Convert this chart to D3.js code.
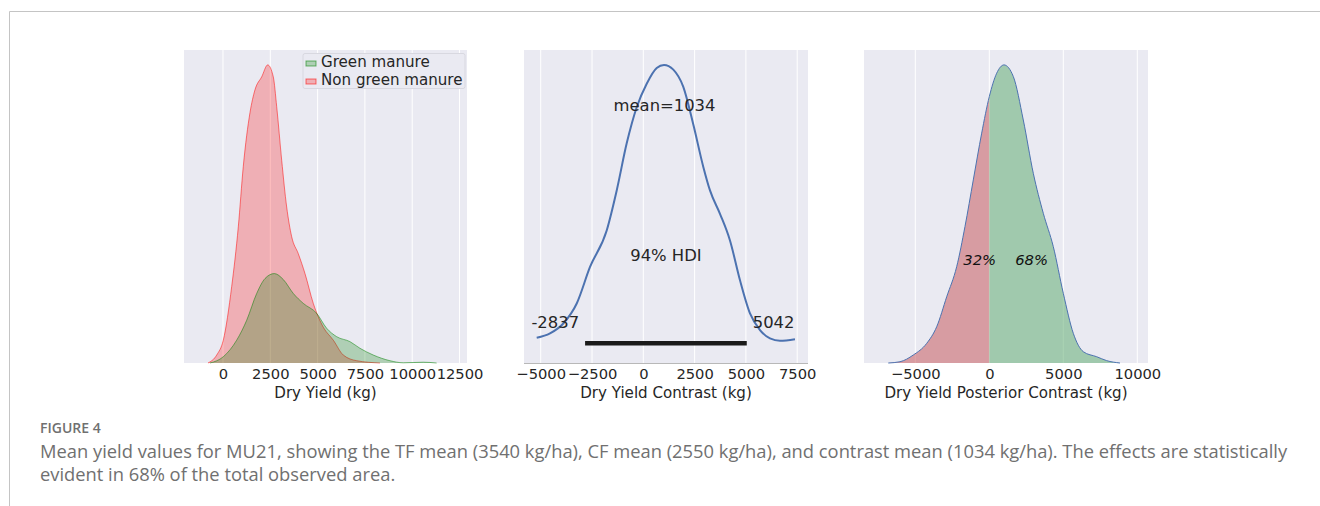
<!DOCTYPE html>
<html><head><meta charset="utf-8">
<script src="https://cdn.jsdelivr.net/npm/d3@7"></script>
<style>body{margin:0;background:#fff;} svg{display:block}</style>
</head><body><svg id="c" width="1320" height="506"></svg>
<script>
// ---------- data (densities in 1e-4 per kg) ----------
const yieldTicks = [0, 2500, 5000, 7500, 10000, 12500];
const contrastTicks = [-5000, -2500, 0, 2500, 5000, 7500];
const posteriorTicks = [-5000, 0, 5000, 10000];
const groupNames = ["Green manure", "Non green manure"];

const nonGreenYield   = [-793,-333,16,460,809,1073,1427,1691,2045,2362,2658,2838,3102,3366,3631,3980,4334,4772,5301,5829,6358,7066,8297];
const nonGreenDensity = [0,0.08,0.23,0.77,1.37,1.98,2.52,2.75,2.88,3.0,2.88,2.58,2.04,1.57,1.27,1.10,0.90,0.60,0.36,0.23,0.08,0.023,0];

const greenYield   = [-687,16,724,1252,1781,2220,2713,3187,3715,4244,4949,5477,6006,6711,7240,7944,8825,9530,10586,11290];
const greenDensity = [0,0.063,0.23,0.43,0.70,0.85,0.90,0.84,0.70,0.60,0.50,0.35,0.265,0.215,0.148,0.08,0.023,0.002,0.008,0];

const contrastValue   = [-5195,-4547,-3898,-3245,-2597,-1784,-1296,-809,-322,166,653,1009,1462,1949,2437,2924,3250,3737,4224,4712,5199,5686,6173,6660,7391];
const contrastDensity = [0.161,0.189,0.252,0.379,0.612,0.845,1.10,1.40,1.63,1.78,1.88,1.90,1.87,1.76,1.52,1.25,1.10,0.951,0.781,0.527,0.316,0.210,0.157,0.142,0.152];
const contrastMean = 1034;
const hdiLow = -2837, hdiHigh = 5042;
const hdiLabel = "94% HDI";

const posteriorValue   = [-6825,-6034,-5135,-4230,-3554,-2878,-2203,-1642,-1081,-514,0,500,993,1622,2297,2973,3649,4324,5000,5676,6352,7257,7933,8831];
const posteriorDensity = [0,0.008,0.051,0.125,0.231,0.422,0.614,0.870,1.167,1.465,1.698,1.847,1.900,1.826,1.549,1.209,0.954,0.742,0.444,0.189,0.072,0.040,0.015,0];
const shareBelow = "32%", shareAbove = "68%";

const xLabels = ["Dry Yield (kg)", "Dry Yield Contrast (kg)", "Dry Yield Posterior Contrast (kg)"];
const figureLabel = "FIGURE 4";
const captionLines = [
  "Mean yield values for MU21, showing the TF mean (3540 kg/ha), CF mean (2550 kg/ha), and contrast mean (1034 kg/ha). The effects are statistically",
  "evident in 68% of the total observed area."
];

// ---------- layout ----------
const svg = d3.select("#c");
const FONT = "DejaVu Sans, sans-serif";
const BG = "#eaeaf2";
const yTop = 50, yBottom = 363;
const panels = [
  {x0:184, x1:467, dom:[-2061, 12896], ticks:yieldTicks},
  {x0:524, x1:808, dom:[-5814, 8026], ticks:contrastTicks},
  {x0:864, x1:1148, dom:[-8466, 10723], ticks:posteriorTicks}
];

// frame lines
svg.append("rect").attr("width",1320).attr("height",506).attr("fill","#fff");
svg.append("line").attr("x1",9.5).attr("x2",1320).attr("y1",11.5).attr("y2",11.5).attr("stroke","#c4c4c4");
svg.append("line").attr("x1",9.5).attr("x2",9.5).attr("y1",11.5).attr("y2",506).attr("stroke","#c4c4c4");

function makePanel(p, i){
  const g = svg.append("g");
  const x = d3.scaleLinear().domain(p.dom).range([p.x0, p.x1]);
  g.append("rect").attr("x",p.x0).attr("y",yTop).attr("width",p.x1-p.x0).attr("height",yBottom-yTop).attr("fill",BG);
  g.selectAll("line.grid").data(p.ticks).join("line")
    .attr("x1",d=>x(d)).attr("x2",d=>x(d)).attr("y1",yTop).attr("y2",yBottom)
    .attr("stroke","#fff").attr("stroke-width",1);
  const ax = g.append("g").attr("transform",`translate(0,${yBottom})`)
    .call(d3.axisBottom(x).tickValues(p.ticks).tickSize(0).tickPadding(6).tickFormat(d3.format("d")));
  ax.select(".domain").remove();
  ax.selectAll("text").attr("font-family",FONT).attr("font-size",14.7).attr("fill","#262626");
  g.append("text").attr("x",(p.x0+p.x1)/2).attr("y",397.5).attr("text-anchor","middle")
    .attr("font-family",FONT).attr("font-size",15.1).attr("fill","#262626").text(xLabels[i]);
  return {g, x};
}

// ---- panel 1 ----
{
  const {g, x} = makePanel(panels[0], 0);
  const ymax = d3.max(nonGreenDensity.concat(greenDensity))*1.05;
  const y = d3.scaleLinear().domain([0, ymax]).range([yBottom, yTop]);
  const series = [
    {xs:nonGreenYield, ys:nonGreenDensity, c:"red"},
    {xs:greenYield, ys:greenDensity, c:"green"}
  ];
  series.forEach(s=>{
    const pts = s.xs.map((v,k)=>[v, s.ys[k]]);
    g.append("path").datum(pts)
      .attr("d", d3.area().x(d=>x(d[0])).y0(y(0)).y1(d=>y(d[1])).curve(d3.curveMonotoneX))
      .attr("fill", s.c).attr("fill-opacity",0.25);
    g.append("path").datum(pts)
      .attr("d", d3.line().x(d=>x(d[0])).y(d=>y(d[1])).curve(d3.curveMonotoneX))
      .attr("fill","none").attr("stroke", s.c).attr("stroke-opacity",0.5).attr("stroke-width",1);
  });
  // legend
  const lg = g.append("g");
  lg.append("rect").attr("x",303).attr("y",53.5).attr("width",162).attr("height",35).attr("rx",2)
    .attr("fill","#eaeaf2").attr("stroke","#d8d8e0");
  const cols = ["green","red"];
  groupNames.forEach((n,k)=>{
    const yy = 61.5 + k*18;
    lg.append("rect").attr("x",306).attr("y",yy-0.5).attr("width",10).attr("height",5)
      .attr("fill",cols[k]).attr("fill-opacity",0.25).attr("stroke",cols[k]).attr("stroke-opacity",0.55);
    lg.append("text").attr("x",321).attr("y",yy+5).attr("font-family",FONT).attr("font-size",15.1)
      .attr("fill","#262626").text(n);
  });
}

// ---- panel 2 ----
{
  const p = panels[1];
  const {g, x} = makePanel(p, 1);
  const ymax = d3.max(contrastDensity)*1.05;
  const y = d3.scaleLinear().domain([0, ymax]).range([yBottom, yTop]);
  g.append("line").attr("x1",p.x0).attr("x2",p.x1).attr("y1",yBottom+0.5).attr("y2",yBottom+0.5).attr("stroke","#b8b8b8");
  const pts = contrastValue.map((v,k)=>[v, contrastDensity[k]]);
  g.append("path").datum(pts)
    .attr("d", d3.line().x(d=>x(d[0])).y(d=>y(d[1])).curve(d3.curveMonotoneX))
    .attr("fill","none").attr("stroke","#4c72b0").attr("stroke-width",2);
  g.append("line").attr("x1",x(hdiLow)).attr("x2",x(hdiHigh)).attr("y1",y(ymax*0.063)).attr("y2",y(ymax*0.063))
    .attr("stroke","#1a1a1a").attr("stroke-width",4.5);
  const t = (xx, yy, s, anchor)=>g.append("text").attr("x",xx).attr("y",yy).attr("text-anchor",anchor)
    .attr("dominant-baseline","central").attr("font-family",FONT).attr("font-size",16.4).attr("fill","#262626").text(s);
  t(x(contrastMean), y(ymax*0.824), "mean=" + contrastMean, "middle");
  t(x((hdiLow+hdiHigh)/2), y(ymax*0.345), hdiLabel, "middle");
  t(x(hdiLow)-6, y(ymax*0.128), "-" + Math.abs(hdiLow), "end");
  t(x(hdiHigh)+6, y(ymax*0.128), String(hdiHigh), "start");
}

// ---- panel 3 ----
{
  const {g, x} = makePanel(panels[2], 2);
  const ymax = d3.max(posteriorDensity)*1.05;
  const y = d3.scaleLinear().domain([0, ymax]).range([yBottom, yTop]);
  const pts = posteriorValue.map((v,k)=>[v, posteriorDensity[k]]);
  const area = d3.area().x(d=>x(d[0])).y0(y(0)).y1(d=>y(d[1])).curve(d3.curveMonotoneX);
  g.append("path").datum(pts.filter(d=>d[0]<=0)).attr("d",area).attr("fill","#c44e52").attr("fill-opacity",0.5);
  g.append("path").datum(pts.filter(d=>d[0]>=0)).attr("d",area).attr("fill","#55a868").attr("fill-opacity",0.5);
  g.append("path").datum(pts)
    .attr("d", d3.line().x(d=>x(d[0])).y(d=>y(d[1])).curve(d3.curveMonotoneX))
    .attr("fill","none").attr("stroke","#4c72b0").attr("stroke-width",1);
  const t = (xx, s)=>g.append("text").attr("x",xx).attr("y",y(ymax*0.332)).attr("text-anchor","middle")
    .attr("dominant-baseline","central").attr("font-family",FONT).attr("font-style","italic")
    .attr("font-size",14.8).attr("fill","#111").text(s);
  t(x(-650), shareBelow);
  t(x(2860), shareAbove);
}

// ---- caption ----
svg.append("text").attr("x",40).attr("y",433).attr("font-family","Open Sans, sans-serif")
  .attr("font-size",14).attr("font-weight",600).attr("fill","#707070").text(figureLabel);
const cap = svg.append("g");
const l1 = cap.append("text").attr("x",40).attr("y",458).attr("font-family","Open Sans, sans-serif")
  .attr("font-size",17).attr("fill","#707070").text(captionLines[0]);
const w = l1.node().getComputedTextLength();
const fs = 17*1248/w;
l1.attr("font-size",fs);
cap.append("text").attr("x",40).attr("y",481).attr("font-family","Open Sans, sans-serif")
  .attr("font-size",fs).attr("fill","#707070").text(captionLines[1]);
</script></body></html>
